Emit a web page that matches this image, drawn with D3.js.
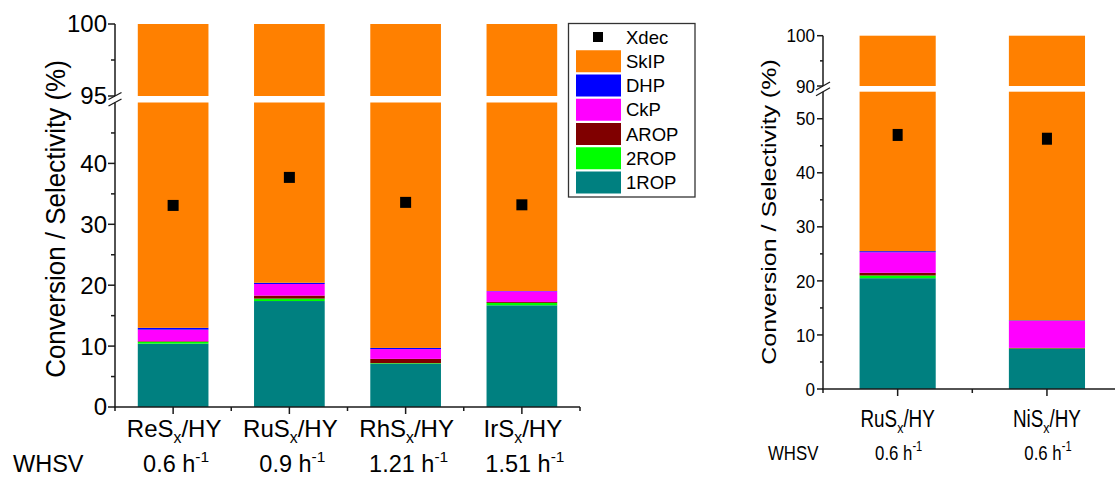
<!DOCTYPE html>
<html><head><meta charset="utf-8">
<script src="https://cdn.jsdelivr.net/npm/d3@7"></script>
<style>html,body{margin:0;padding:0;background:#fff;}svg{display:block;font-family:Arial,"Liberation Sans",sans-serif;}</style>
</head><body>
<svg id="c" width="1115" height="479"></svg>
<script>
// ---------- data ----------
const keys = ["1ROP","2ROP","AROP","CkP","DHP","SkIP"];
const colors = ["#008080","#00FF00","#800000","#FF00FF","#0000FF","#FF8000"];
const legendOrder = ["SkIP","DHP","CkP","AROP","2ROP","1ROP"];

// left panel
const catsL = ["ReS","RuS","RhS","IrS"];
const whsvL = ["0.6","0.9","1.21","1.51"];
const rop1L = [10.4, 17.4, 7.1, 16.7];
const rop2L = [0.3, 0.4, 0.1, 0.4];
const aropL = [0.1, 0.5, 0.7, 0.15];
const ckpL  = [1.9, 1.9, 1.6, 1.75];
const dhpL  = [0.3, 0.2, 0.2, 0.05];
const skipL = [87.0, 79.6, 90.3, 80.95];
const xdecL = [33.1, 37.7, 33.6, 33.2];
const ticksLoL = [0,10,20,30,40];
const minorLoL = [5,15,25,35,45];
const ticksHiL = [95,100];
const minorHiL = [97.5];

// right panel
const catsR = ["RuS","NiS"];
const whsvR = ["0.6","0.6"];
const rop1R = [20.5, 7.4];
const rop2R = [0.5, 0.1];
const aropR = [0.5, 0.1];
const ckpR  = [3.8, 5.0];
const dhpR  = [0.2, 0.1];
const skipR = [74.5, 87.3];
const xdecR = [47.0, 46.3];
const ticksLoR = [0,10,20,30,40,50];
const minorLoR = [5,15,25,35,45];
const ticksHiR = [90,100];
const minorHiR = [95];

const svg = d3.select("#c");

function makeRows(cats, a,b,c,d,e,f){
  return cats.map((cat,i)=>({cat, "1ROP":a[i],"2ROP":b[i],"AROP":c[i],"CkP":d[i],"DHP":e[i],"SkIP":f[i]}));
}

function panel(o){
  const g = svg.append("g");
  const rows = makeRows(o.cats, ...o.series);
  const x = d3.scaleBand().domain(o.cats).range(o.xRange).paddingInner(o.padIn).paddingOuter(o.padIn/2);
  const yLo = d3.scaleLinear().domain(o.loDom).range(o.loRange);
  const yHi = d3.scaleLinear().domain(o.hiDom).range(o.hiRange);
  const stack = d3.stack().keys(keys)(rows);
  const loMax = o.loDom[1], hiMin = o.hiDom[0], hiMax = o.hiDom[1];

  stack.forEach((layer,k)=>{
    layer.forEach((s,i)=>{
      const y0=s[0], y1=Math.min(s[1],hiMax);
      const cat = o.cats[i];
      if (y0 < loMax && y1>y0){
        const a=y0, b=Math.min(y1,loMax);
        g.append("rect").attr("x",x(cat)).attr("width",x.bandwidth())
          .attr("y",yLo(b)).attr("height",yLo(a)-yLo(b)).attr("fill",colors[k]);
      }
      if (y1 > hiMin){
        const a=Math.max(y0,hiMin), b=y1;
        g.append("rect").attr("x",x(cat)).attr("width",x.bandwidth())
          .attr("y",yHi(b)).attr("height",yHi(a)-yHi(b)).attr("fill",colors[k]);
      }
    });
  });

  // Xdec markers
  o.xdec.forEach((v,i)=>{
    const cx = x(o.cats[i]) + x.bandwidth()/2;
    g.append("rect").attr("x",cx-o.mw/2).attr("y",yLo(v)-o.mh/2)
      .attr("width",o.mw).attr("height",o.mh).attr("fill","#000");
  });

  const ax = o.xRange[0];
  const stroke = "#1a1a1a", sw = 1.5;
  // y-axis lines
  g.append("line").attr("x1",ax).attr("x2",ax).attr("y1",yLo(0)+0.5).attr("y2",yLo(loMax)).attr("stroke",stroke).attr("stroke-width",sw);
  g.append("line").attr("x1",ax).attr("x2",ax).attr("y1",yHi(hiMin)).attr("y2",yHi(hiMax)).attr("stroke",stroke).attr("stroke-width",sw);
  // break marks
  [yHi(hiMin), yLo(loMax)].forEach(yy=>{
    g.append("line").attr("x1",ax-o.bdx).attr("x2",ax+o.bdx).attr("y1",yy+o.bdy).attr("y2",yy-o.bdy)
      .attr("stroke",stroke).attr("stroke-width",1.3);
  });
  // y ticks
  const majorTicks = (sc, vals)=>vals.forEach(v=>{
    g.append("line").attr("x1",ax-o.tl).attr("x2",ax).attr("y1",sc(v)).attr("y2",sc(v)).attr("stroke",stroke).attr("stroke-width",sw);
    g.append("text").attr("transform",`translate(${ax-o.tl-o.lpad},${sc(v)}) scale(${o.tsx},1)`).attr("dy","0.35em")
      .attr("text-anchor","end").attr("font-size",o.tfs).attr("fill","#000").text(v);
  });
  const minorTicks = (sc, vals)=>vals.forEach(v=>{
    g.append("line").attr("x1",ax-o.mtl).attr("x2",ax).attr("y1",sc(v)).attr("y2",sc(v)).attr("stroke",stroke).attr("stroke-width",sw);
  });
  majorTicks(yLo,o.ticksLo); majorTicks(yHi,o.ticksHi);
  minorTicks(yLo,o.minorLo); minorTicks(yHi,o.minorHi);

  // x axis
  const y0px = yLo(0);
  g.append("line").attr("x1",ax-0.75).attr("x2",o.xRange[1]).attr("y1",y0px).attr("y2",y0px).attr("stroke",stroke).attr("stroke-width",sw);
  const step = x.step();
  o.cats.forEach((c,i)=>{
    const cx = x(c)+x.bandwidth()/2;
    g.append("line").attr("x1",cx).attr("x2",cx).attr("y1",y0px).attr("y2",y0px+7).attr("stroke",stroke).attr("stroke-width",sw);
  });
  for (let i=0;i<=o.cats.length;i++){
    const mx = o.xRange[0] + i*step;
    g.append("line").attr("x1",mx).attr("x2",mx).attr("y1",y0px).attr("y2",y0px+4).attr("stroke",stroke).attr("stroke-width",sw);
  }

  // category labels
  o.cats.forEach((c,i)=>{
    const cx = x(c)+x.bandwidth()/2;
    const t = g.append("text").attr("transform",`translate(${cx+o.cdx},${o.catY}) scale(${o.csx},1)`)
      .attr("text-anchor","middle").attr("font-size",o.cfs).attr("fill","#000");
    t.append("tspan").text(c);
    t.append("tspan").attr("font-size",o.cfs*0.66).attr("dy",o.cfs*0.27).text("x");
    t.append("tspan").attr("dy",-o.cfs*0.27).text("/HY");
    const w = g.append("text").attr("transform",`translate(${cx+o.wdx},${o.whY}) scale(${o.wsx},1)`)
      .attr("text-anchor","middle").attr("font-size",o.wfs).attr("fill","#000");
    w.append("tspan").text(o.whsv[i]+" h");
    w.append("tspan").attr("font-size",o.wfs*0.66).attr("dy",-o.wfs*0.42).text("-1");
  });
  g.append("text").attr("transform",`translate(${o.whX},${o.whY}) scale(${o.wsx},1)`)
    .attr("font-size",o.wfs).attr("fill","#000").text("WHSV");

  // y title
  g.append("text").attr("transform",`translate(${o.ttX},${o.ttY}) rotate(-90) scale(1,${o.tts})`)
    .attr("text-anchor","middle").attr("font-size",o.ttfs).attr("fill","#000")
    .text("Conversion / Selectivity (%)");
  return g;
}

panel({
  cats:catsL, series:[rop1L,rop2L,aropL,ckpL,dhpL,skipL], xdec:xdecL, whsv:whsvL,
  xRange:[115,580], padIn:0.392,
  loDom:[0,50], loRange:[407,102.5], hiDom:[95,100], hiRange:[96,24],
  ticksLo:ticksLoL, minorLo:minorLoL, ticksHi:ticksHiL, minorHi:minorHiL,
  mw:11, mh:11, bdx:6.5, bdy:3.5, tl:7, mtl:4, lpad:1, tfs:24, tsx:1,
  catY:437, cfs:24, csx:1, cdx:1,
  whY:472, wfs:23.5, wsx:1, wdx:3, whX:13,
  ttX:65, ttY:219, ttfs:26, tts:1.05
});

panel({
  cats:catsR, series:[rop1R,rop2R,aropR,ckpR,dhpR,skipR], xdec:xdecR, whsv:whsvR,
  xRange:[823,1121.6], padIn:0.49,
  loDom:[0,55], loRange:[389,91.7], hiDom:[90,100], hiRange:[86,35.7],
  ticksLo:ticksLoR, minorLo:minorLoR, ticksHi:ticksHiR, minorHi:minorHiR,
  mw:10, mh:12, bdx:7, bdy:4, tl:6, mtl:3, lpad:2, tfs:19, tsx:0.9,
  catY:427, cfs:23, csx:0.82, cdx:0,
  whY:460, wfs:21, wsx:0.8, wdx:1, whX:768,
  ttX:776, ttY:212, ttfs:25, tts:0.8
});

// legend
const lg = svg.append("g");
lg.append("rect").attr("x",568.5).attr("y",23.5).attr("width",126.5).attr("height",173.5)
  .attr("fill","#fff").attr("stroke","#333").attr("stroke-width",1.3);
const rowY = d3.scaleLinear().domain([0,6]).range([37,182.5]);
lg.append("rect").attr("x",593).attr("y",rowY(0)-5).attr("width",10).attr("height",10).attr("fill","#000");
lg.append("text").attr("x",626).attr("y",rowY(0)+6.5).attr("font-size",18.5).text("Xdec");
legendOrder.forEach((k,i)=>{
  const yy = rowY(i+1);
  lg.append("rect").attr("x",576).attr("y",yy-11).attr("width",45).attr("height",22)
    .attr("fill",colors[keys.indexOf(k)]);
  lg.append("text").attr("x",626).attr("y",yy+6.5).attr("font-size",18.5).text(k);
});
</script>
</body></html>
